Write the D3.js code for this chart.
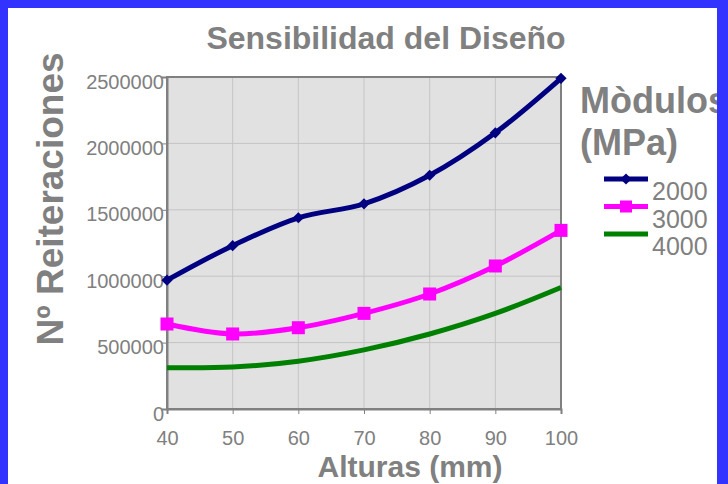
<!DOCTYPE html>
<html>
<head>
<meta charset="utf-8">
<script src="https://cdn.jsdelivr.net/npm/d3@7/dist/d3.min.js"></script>
<style>
  html, body { margin: 0; padding: 0; background: #fff; }
  svg { display: block; font-family: "Liberation Sans", Arial, sans-serif; }
</style>
</head>
<body>
<svg id="chart" width="728" height="484"></svg>
<script>
// Heights (mm) on the x axis
const alturas = [40, 50, 60, 70, 80, 90, 100];
// Number of iterations for each modulus (MPa)
const mod2000 = [970000, 1230000, 1440000, 1545000, 1760000, 2080000, 2490000];
const mod3000 = [640000, 565000, 612000, 720000, 866000, 1077000, 1345000];
const mod4000 = [311000, 316000, 360000, 445000, 565000, 720000, 915000];
const yTicks = [0, 500000, 1000000, 1500000, 2000000, 2500000];
const seriesNames = ["2000", "3000", "4000"];

const series = [
  { name: seriesNames[0], values: mod2000, color: "#000080", marker: "diamond" },
  { name: seriesNames[1], values: mod3000, color: "#ff00ff", marker: "square" },
  { name: seriesNames[2], values: mod4000, color: "#008000", marker: null }
];

const svg = d3.select("#chart");
const grey = "#808080";
const plot = { left: 167, right: 561, top: 77, bottom: 409 };

const x = d3.scaleLinear().domain([40, 100]).range([plot.left, plot.right]);
const y = d3.scaleLinear().domain([0, 2500000]).range([plot.bottom, plot.top]);

// plot background
svg.append("rect")
  .attr("x", plot.left).attr("y", plot.top)
  .attr("width", plot.right - plot.left).attr("height", plot.bottom - plot.top)
  .attr("fill", "#e1e1e1");

// gridlines
svg.append("g").selectAll("line.h").data(yTicks).join("line")
  .attr("x1", plot.left).attr("x2", plot.right)
  .attr("y1", d => y(d)).attr("y2", d => y(d))
  .attr("stroke", "#c4c4c4").attr("stroke-width", 1);
svg.append("g").selectAll("line.v").data(alturas).join("line")
  .attr("x1", d => x(d)).attr("x2", d => x(d))
  .attr("y1", plot.top).attr("y2", plot.bottom)
  .attr("stroke", "#c4c4c4").attr("stroke-width", 1);

// plot frame
svg.append("rect")
  .attr("x", plot.left).attr("y", plot.top)
  .attr("width", plot.right - plot.left).attr("height", plot.bottom - plot.top)
  .attr("fill", "none").attr("stroke", grey).attr("stroke-width", 2);

// axes
const yAxis = d3.axisLeft(y).tickValues(yTicks).tickSize(5).tickPadding(3)
  .tickFormat(d3.format("d"));
const gy = svg.append("g").attr("transform", `translate(${plot.left},0)`).call(yAxis);
gy.select(".domain").attr("stroke", grey).attr("stroke-width", 2);
gy.selectAll(".tick line").attr("stroke", grey);
gy.selectAll(".tick text")
  .attr("fill", grey).attr("font-size", 20).attr("dy", null).attr("y", 11)
  .attr("x", -3);

const xAxis = d3.axisBottom(x).tickValues(alturas).tickSize(5).tickPadding(0)
  .tickFormat(d3.format("d"));
const gx = svg.append("g").attr("transform", `translate(0,${plot.bottom})`).call(xAxis);
gx.select(".domain").attr("stroke", grey).attr("stroke-width", 2);
gx.selectAll(".tick line").attr("stroke", grey);
gx.selectAll(".tick text")
  .attr("fill", grey).attr("font-size", 20).attr("dy", null).attr("y", 36);

// series lines
const line = d3.line()
  .x((d, i) => x(alturas[i]))
  .y(d => y(d))
  .curve(d3.curveCatmullRom.alpha(0.5));

const diamond = d3.symbol().type(d3.symbolDiamond2).size(80);

series.forEach(s => {
  svg.append("path")
    .attr("d", line(s.values))
    .attr("fill", "none")
    .attr("stroke", s.color)
    .attr("stroke-width", 5)
    .attr("stroke-linejoin", "round");
  const g = svg.append("g");
  if (s.marker === "diamond") {
    g.selectAll("path").data(s.values).join("path")
      .attr("d", diamond)
      .attr("transform", (d, i) => `translate(${x(alturas[i])},${y(d)})`)
      .attr("fill", s.color);
  } else if (s.marker === "square") {
    g.selectAll("rect").data(s.values).join("rect")
      .attr("x", (d, i) => x(alturas[i]) - 6.5)
      .attr("y", d => y(d) - 6.5)
      .attr("width", 13).attr("height", 13)
      .attr("fill", s.color);
  }
});

// titles
svg.append("text")
  .attr("x", 386).attr("y", 49)
  .attr("text-anchor", "middle")
  .attr("font-size", 32).attr("font-weight", "bold").attr("fill", grey)
  .text("Sensibilidad del Diseño");

svg.append("text")
  .attr("transform", "translate(63,199) rotate(-90)")
  .attr("text-anchor", "middle")
  .attr("font-size", 37).attr("font-weight", "bold").attr("fill", grey)
  .text("Nº Reiteraciones");

svg.append("text")
  .attr("x", 410).attr("y", 477)
  .attr("text-anchor", "middle")
  .attr("font-size", 30).attr("font-weight", "bold").attr("fill", grey)
  .text("Alturas (mm)");

// legend
const leg = svg.append("g");
leg.append("text").attr("x", 580).attr("y", 113)
  .attr("font-size", 36).attr("font-weight", "bold").attr("fill", grey)
  .text("Mòdulos");
leg.append("text").attr("x", 580).attr("y", 155)
  .attr("font-size", 36).attr("font-weight", "bold").attr("fill", grey)
  .text("(MPa)");

series.forEach((s, i) => {
  const ly = 179 + i * 27.5;
  leg.append("line")
    .attr("x1", 604).attr("x2", 648).attr("y1", ly).attr("y2", ly)
    .attr("stroke", s.color).attr("stroke-width", 5);
  if (s.marker === "diamond") {
    leg.append("path").attr("d", diamond)
      .attr("transform", `translate(626,${ly})`).attr("fill", s.color);
  } else if (s.marker === "square") {
    leg.append("rect").attr("x", 620).attr("y", ly - 6)
      .attr("width", 12).attr("height", 12).attr("fill", s.color);
  }
  leg.append("text").attr("x", 652).attr("y", ly + 21)
    .attr("font-size", 25).attr("fill", grey)
    .text(s.name);
});

// blue frame around the chart (bottom edge falls outside the view)
svg.append("rect").attr("x", 0).attr("y", 0).attr("width", 728).attr("height", 8).attr("fill", "#3333ff");
svg.append("rect").attr("x", 0).attr("y", 0).attr("width", 8).attr("height", 484).attr("fill", "#3333ff");
svg.append("rect").attr("x", 717).attr("y", 0).attr("width", 11).attr("height", 484).attr("fill", "#3333ff");
</script>
</body>
</html>
